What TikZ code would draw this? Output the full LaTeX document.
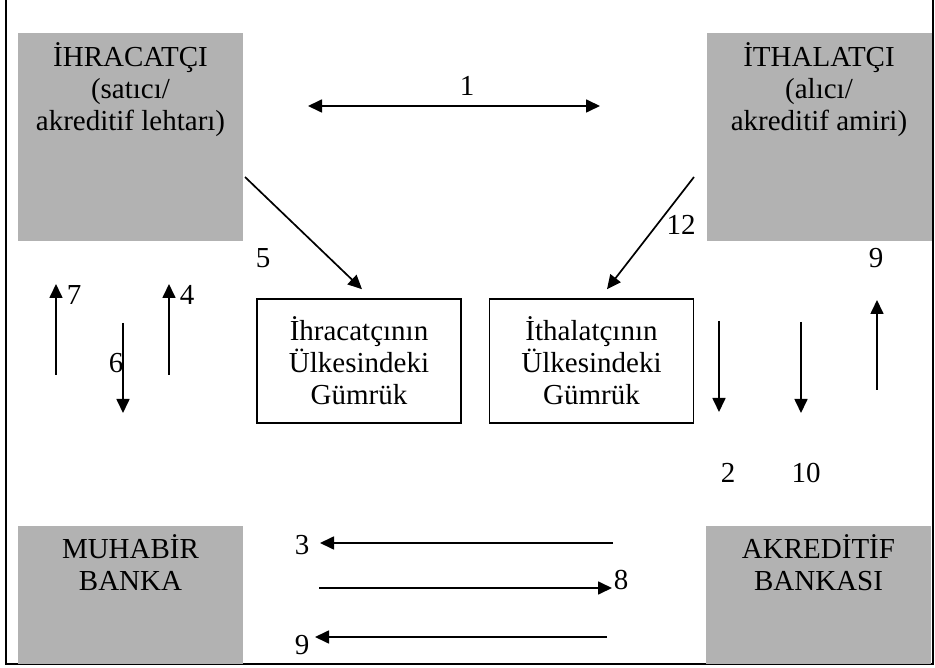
\documentclass[tikz,border=0pt]{standalone}
\usepackage{fontspec}
\setmainfont{Liberation Serif}
\usetikzlibrary{arrows.meta,positioning}

\tikzset{
  graybox/.style={fill=gray!60, minimum width=225pt, minimum height=208pt, inner sep=0pt},
  boxtext/.style={align=center, inner sep=0pt},
  gumruk/.style={draw, line width=1.6pt, minimum width=204pt, minimum height=124pt, align=center, inner sep=0pt},
  flow/.style={line width=1.7pt, -{Triangle[length=14pt,width=13pt]}},
  num/.style={inner sep=0pt}
}

\begin{document}
\begin{tikzpicture}
  [x=1pt, y=-1pt,
   every node/.style={font=\fontsize{29}{32}\selectfont}]
  \useasboundingbox (0,0) rectangle (935,668);

  % frame
  \draw[line width=2pt] (6,0) -- (6,664) -- (933,664) -- (933,0);

  % parties and banks
  \node[graybox] (ihr) at (130.5,137) {};
  \node[graybox] (ith) at (819,137) {};
  \node[graybox, minimum height=138pt] (muh) at (130.5,595) {};
  \node[graybox, minimum height=138pt] (akr) at (818.5,595) {};
  \node[boxtext] (ihrtext) at (130.5,90) {İHRACATÇI\\(satıcı/\\akreditif lehtarı)};
  \node[boxtext] (ithtext) at (819,90) {İTHALATÇI\\(alıcı/\\akreditif amiri)};
  \node[boxtext] (muhtext) at (130.5,563) {MUHABİR\\BANKA};
  \node[boxtext] (akrtext) at (818.5,563) {AKREDİTİF\\BANKASI};

  % customs
  \node[gumruk] (gumL) at (359,361) {İhracatçının\\Ülkesindeki\\Gümrük};
  \node[gumruk] (gumR) at (591.5,361) {İthalatçının\\Ülkesindeki\\Gümrük};

  % free ends
  \coordinate (c1a) at (308,106);
  \coordinate (c1b) at (600,106);
  \coordinate (c5)  at (245,177);
  \coordinate (c12) at (694,177);
  \coordinate (c7a) at (56,375);  \coordinate (c7b) at (56,284);
  \coordinate (c6a) at (123,323); \coordinate (c6b) at (123,413);
  \coordinate (c4a) at (169,375); \coordinate (c4b) at (169,284);
  \coordinate (c2a) at (719,321); \coordinate (c2b) at (719,412);
  \coordinate (c10a) at (801,322); \coordinate (c10b) at (801,413);
  \coordinate (c9a) at (877,390); \coordinate (c9b) at (877,300);
  \coordinate (c3a) at (613,543); \coordinate (c3b) at (320,543);
  \coordinate (c8a) at (319,588); \coordinate (c8b) at (612,588);
  \coordinate (c9ca) at (607,637); \coordinate (c9cb) at (315,637);

  % connectors
  \draw[flow, {Triangle[length=14pt,width=13pt]}-{Triangle[length=14pt,width=13pt]}] (c1a) -- (c1b);
  \draw[flow] (c5) -- ([shift={(3,-9)}]gumL.north);
  \draw[flow] (c12) -- ([shift={(15.5,-9)}]gumR.north);
  \draw[flow] (c7a) -- (c7b);
  \draw[flow] (c6a) -- (c6b);
  \draw[flow] (c4a) -- (c4b);
  \draw[flow] (c2a) -- (c2b);
  \draw[flow] (c10a) -- (c10b);
  \draw[flow] (c9a) -- (c9b);
  \draw[flow] (c3a) -- (c3b);
  \draw[flow] (c8a) -- (c8b);
  \draw[flow] (c9ca) -- (c9cb);

  % step numbers
  \node[num] (n1) at (467,86) {1};
  \node[num] (n5) at (263,258) {5};
  \node[num] (n12) at (681,225) {12};
  \node[num] (n7) at (74,295) {7};
  \node[num] (n6) at (116,363) {6};
  \node[num] (n4) at (187,295) {4};
  \node[num] (n2) at (728,473) {2};
  \node[num] (n10) at (806,473) {10};
  \node[num] (n9) at (876,258) {9};
  \node[num] (n3) at (302,545) {3};
  \node[num] (n8) at (621,580) {8};
  \node[num] (n9b) at (302,645) {9};
\end{tikzpicture}
\end{document}
